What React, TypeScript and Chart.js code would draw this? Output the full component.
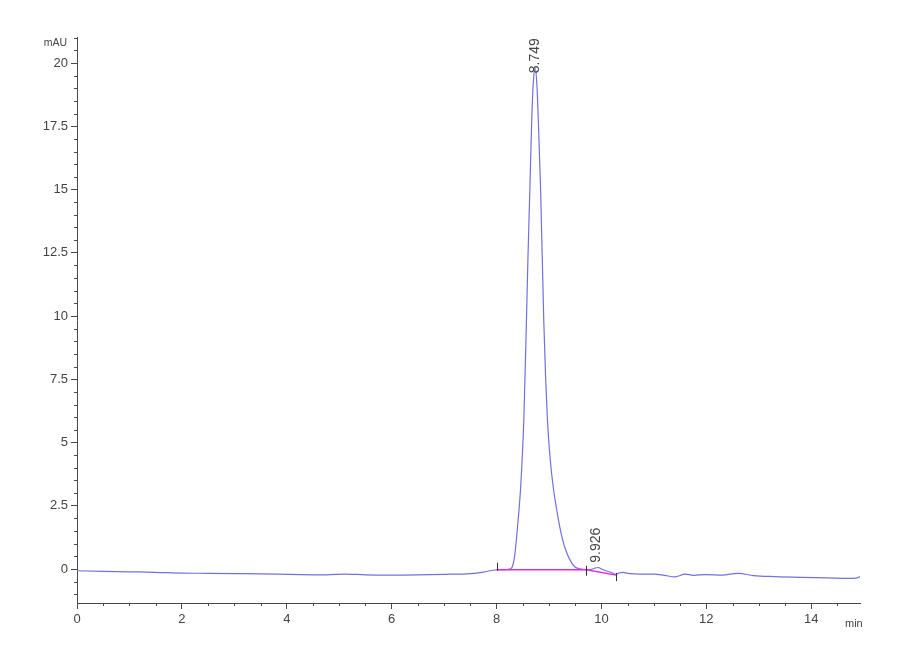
import { useEffect, useRef } from "react";
import { Chart, registerables } from "chart.js";

Chart.register(...registerables);

// ---- data ----
const signalTime = [
  0, 0.5, 1, 1.5, 2, 2.5, 3, 3.5, 4, 4.25, 4.75, 5.13, 5.5, 6, 6.5, 7, 7.5, 7.75, 7.9, 8.0, 8.1, 8.2,
  8.25, 8.3, 8.35, 8.41, 8.46, 8.52, 8.57, 8.6, 8.635, 8.67, 8.7, 8.735, 8.77, 8.8, 8.84, 8.9, 8.935,
  8.97, 9.02, 9.08, 9.18, 9.26, 9.34, 9.42, 9.49, 9.56, 9.64, 9.72, 9.8, 9.88, 9.935, 10.0, 10.1, 10.2,
  10.26, 10.33, 10.41, 10.5, 10.8, 11.0, 11.2, 11.4, 11.6, 11.75, 12.0, 12.3, 12.6, 12.9, 13.3, 13.8,
  14.3, 14.7, 14.85, 14.93,
];
const signalValue = [
  -0.07, -0.09, -0.11, -0.13, -0.16, -0.17, -0.18, -0.19, -0.21, -0.22, -0.23, -0.2, -0.23, -0.24,
  -0.23, -0.21, -0.18, -0.12, -0.06, -0.03, -0.03, -0.02,
  0.0, 0.09, 0.6, 1.9, 3.25, 5.9, 9.84, 12.4, 15.0, 17.7, 19.2, 19.8, 19.1, 17.5, 15.0, 9.84, 7.6,
  5.9, 4.4, 3.25, 1.94, 1.15, 0.63, 0.28, 0.09, 0.02, -0.01, -0.03, -0.02, 0.04, 0.06, 0.0, -0.08, -0.15,
  -0.21, -0.16, -0.13, -0.17, -0.2, -0.2, -0.25, -0.31, -0.2, -0.25, -0.22, -0.24, -0.17, -0.26, -0.3, -0.33,
  -0.35, -0.37, -0.36, -0.3,
];
const baseline1Time = [8.0, 9.71];
const baseline1Value = [-0.03, -0.03];
const baseline2Time = [9.71, 10.28];
const baseline2Value = [-0.03, -0.24];
const markerTime = [8.0, 9.71, 10.28];
const markerValue = [-0.03, -0.03, -0.24];
const peakLabels = ["8.749", "9.926"];
const peakLabelTime = [8.749, 9.926];
const peakLabelValue = [19.6, 0.25];
const xTicks = [0, 2, 4, 6, 8, 10, 12, 14];
const yTicks = [0, 2.5, 5, 7.5, 10, 12.5, 15, 17.5, 20];
const yTickLabels = ["0", "2.5", "5", "7.5", "10", "12.5", "15", "17.5", "20"];
const xMin = 0;
const xMax = 14.93;
const yMin = -1.344;
const yMax = 21.03;
const minorStep = 0.5;
const yUnit = "mAU";
const xUnit = "min";

// ---- styles ----
const FONT = "'Liberation Sans', Arial, sans-serif";
const AXIS = "#4a4a4a";
const TEXT = "#444444";
const LINE = "rgb(112,112,228)";
const BASE = "rgb(228,40,220)";
const markerOffsets = [
  [-7, 1],
  [-4, 6],
  [-2, 6],
];

const toPts = (t: number[], v: number[]) => t.map((x, i) => ({ x, y: v[i] }));

const extras = {
  id: "extras",
  afterDraw(chart: any) {
    const ctx: CanvasRenderingContext2D = chart.ctx;
    const xs = chart.scales.x;
    const ys = chart.scales.y;
    const a = chart.chartArea;
    ctx.save();
    ctx.strokeStyle = AXIS;
    ctx.lineWidth = 1;
    ctx.beginPath();
    for (let i = 0; i * minorStep <= xMax + 1e-9; i++) {
      const v = i * minorStep;
      if (xTicks.some((t) => Math.abs(t - v) < 1e-6)) continue;
      const px = Math.round(xs.getPixelForValue(v)) + 0.5;
      ctx.moveTo(px, a.bottom);
      ctx.lineTo(px, a.bottom + 3);
    }
    for (let i = Math.ceil(yMin / minorStep); i * minorStep <= yMax + 1e-9; i++) {
      const v = i * minorStep;
      if (yTicks.some((t) => Math.abs(t - v) < 1e-6)) continue;
      const py = Math.round(ys.getPixelForValue(v)) + 0.5;
      ctx.moveTo(a.left, py);
      ctx.lineTo(a.left - 3, py);
    }
    ctx.stroke();

    // peak start/end markers
    ctx.strokeStyle = "#333";
    ctx.beginPath();
    markerTime.forEach((t, i) => {
      const px = Math.round(xs.getPixelForValue(t)) + 0.5;
      const py = ys.getPixelForValue(markerValue[i]);
      ctx.moveTo(px, py + markerOffsets[i][0]);
      ctx.lineTo(px, py + markerOffsets[i][1]);
    });
    ctx.stroke();

    // units
    ctx.fillStyle = TEXT;
    ctx.font = `10.5px ${FONT}`;
    ctx.textAlign = "right";
    ctx.textBaseline = "middle";
    ctx.fillText(yUnit, a.left - 10, a.top + 6);
    ctx.font = `11px ${FONT}`;
    ctx.textAlign = "left";
    ctx.textBaseline = "alphabetic";
    ctx.fillText(xUnit, a.right - 15, a.bottom + 24);

    // peak labels
    ctx.font = `14px ${FONT}`;
    peakLabels.forEach((lab, i) => {
      const px = xs.getPixelForValue(peakLabelTime[i]);
      const py = ys.getPixelForValue(peakLabelValue[i]);
      ctx.save();
      ctx.translate(px - 1, py);
      ctx.rotate(-Math.PI / 2);
      ctx.textAlign = "left";
      ctx.textBaseline = "middle";
      ctx.fillText(lab, 0, 0);
      ctx.restore();
    });
    ctx.restore();
  },
};

export default function App() {
  const ref = useRef<HTMLCanvasElement | null>(null);
  useEffect(() => {
    document.body.style.margin = "0";
    if (!ref.current) return;
    const chart = new Chart(ref.current, {
      type: "line",
      data: {
        datasets: [
          {
            data: toPts(signalTime, signalValue),
            borderColor: LINE,
            borderWidth: 1.2,
            pointRadius: 0,
            cubicInterpolationMode: "monotone",
            fill: false,
            order: 2,
          },
          {
            data: toPts(baseline1Time, baseline1Value),
            borderColor: BASE,
            borderWidth: 1.4,
            pointRadius: 0,
            fill: false,
            order: 1,
          },
          {
            data: toPts(baseline2Time, baseline2Value),
            borderColor: BASE,
            borderWidth: 1.4,
            pointRadius: 0,
            fill: false,
            order: 1,
          },
        ],
      },
      options: {
        animation: false,
        responsive: false,
        devicePixelRatio: 1,
        layout: { padding: { top: 37, right: 40, left: 0, bottom: 0 } },
        plugins: { legend: { display: false }, tooltip: { enabled: false } },
        scales: {
          x: {
            type: "linear",
            min: xMin,
            max: xMax,
            afterBuildTicks: (s: any) => {
              s.ticks = xTicks.map((v) => ({ value: v }));
            },
            afterFit: (s: any) => {
              s.height = 57;
            },
            ticks: {
              font: { family: FONT, size: 13 },
              color: TEXT,
              padding: 3,
              maxRotation: 0,
              autoSkip: false,
              callback: (v: any) => String(v),
            },
            grid: { drawOnChartArea: false, drawTicks: true, tickLength: 6, tickColor: AXIS },
            border: { display: true, color: AXIS, width: 1 },
          },
          y: {
            type: "linear",
            min: yMin,
            max: yMax,
            afterBuildTicks: (s: any) => {
              s.ticks = yTicks.map((v) => ({ value: v }));
            },
            afterFit: (s: any) => {
              s.width = 77;
            },
            ticks: {
              font: { family: FONT, size: 13 },
              color: TEXT,
              padding: 3,
              autoSkip: false,
              callback: (v: any) => {
                const i = yTicks.findIndex((t) => Math.abs(t - Number(v)) < 1e-6);
                return i >= 0 ? yTickLabels[i] : "";
              },
            },
            grid: { drawOnChartArea: false, drawTicks: true, tickLength: 6, tickColor: AXIS },
            border: { display: true, color: AXIS, width: 1 },
          },
        },
      },
      plugins: [extras],
    } as any);
    return () => chart.destroy();
  }, []);
  return (
    <div style={{ width: 900, height: 660, background: "#fff" }}>
      <canvas ref={ref} width={900} height={660} style={{ display: "block" }} />
    </div>
  );
}
